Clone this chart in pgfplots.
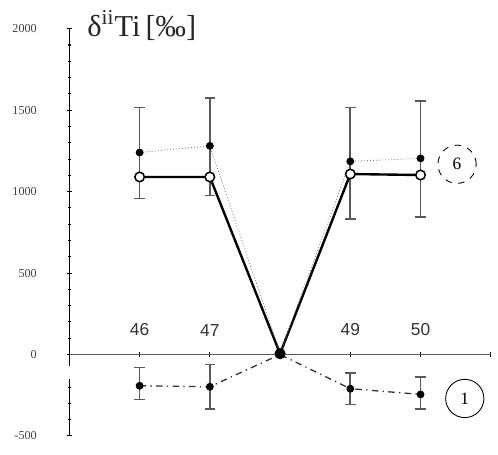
\documentclass[border=0pt]{standalone}
\usepackage{fontspec}
\setmainfont{Liberation Serif}
\newfontfamily\xsans{Liberation Sans}
\usepackage{pgfplots}
\pgfplotsset{compat=1.18}
\usetikzlibrary{calc}

% one image pixel of the reference
\def\px{0.01606cm}

\begin{document}
\begin{tikzpicture}
\begin{axis}[
    name=ax,
    scale only axis,
    width=6.83cm,
    height=6.60cm,
    xmin=45, xmax=51,
    ymin=-500, ymax=2000,
    axis x line=middle,
    axis y line=left,
    axis line style={-, black, line width=0.5pt},
    x axis line style={gray!70!black},
    xtick={46,47,48,49,50,51},
    xticklabels={46,47,,49,50,},
    xticklabel style={font=\xsans\fontsize{8}{9}\selectfont, anchor=south, yshift=0.22cm, text=black!80},
    ytick={-500,0,500,1000,1500,2000},
    minor y tick num=4,
    yticklabel style={font=\fontsize{5.6}{6}\selectfont, xshift=-0.36cm, text=black!75},
    /pgf/number format/assume math mode=true,
    /pgf/number format/set thousands separator={},
    tick align=center,
    major tick length=0.09cm,
    minor tick length=0.06cm,
    tick style={black, line width=0.5pt},
    clip=false,
]

% series 6, open markers
\addplot[black, line width=1.1pt,
    mark=*, mark size=2.2pt, mark options={fill=white, line width=0.7pt}]
coordinates {
    (46,1090) (47,1090) (48,5) (49,1108) (50,1102)
};

% series 6, filled markers
\addplot[gray, line width=0.4pt, densely dotted,
    mark=*, mark size=1.6pt, mark options={solid, black},
    error bars/.cd, y dir=both, y explicit,
    error bar style={gray!70!black, line width=0.8pt, solid},
    error mark options={rotate=90, mark size=2.4pt, line width=0.6pt, gray!70!black}]
coordinates {
    (46,1240) += (0,275) -= (0,282)
    (47,1281) += (0,294) -= (0,305)
    (48,10) += (0,0) -= (0,0)
    (49,1186) += (0,329) -= (0,354)
    (50,1204) += (0,353) -= (0,360)
};

% series 1
\addplot[black!80, line width=0.6pt, dash dot,
    mark=*, mark size=1.5pt, mark options={solid, black},
    error bars/.cd, y dir=both, y explicit,
    error bar style={gray!70!black, line width=0.8pt, solid},
    error mark options={rotate=90, mark size=2.4pt, line width=0.6pt, gray!70!black}]
coordinates {
    (46,-192) += (0,114) -= (0,83)
    (47,-198) += (0,138) -= (0,137)
    (48,0) += (0,0) -= (0,0)
    (49,-210) += (0,96) -= (0,95)
    (50,-245) += (0,107) -= (0,90)
};

% gap in the y axis line just below zero
\fill[white] (axis cs:44.9,-72) rectangle (axis cs:45.1,-150);

% axis title
\node[anchor=west, inner sep=0pt, font=\fontsize{14}{16}\selectfont, text=black!85]
    at (axis cs:45.25,2020) {δ$^{\mathrm{ii}}$Ti\,[‰]};

% circled series labels
\node[draw, dashed, circle, minimum size=0.62cm, inner sep=0pt,
    font=\fontsize{8}{9}\selectfont] at (axis cs:50.52,1168) {6};
\node[draw, circle, minimum size=0.62cm, inner sep=0pt,
    font=\fontsize{8}{9}\selectfont] at (axis cs:50.63,-270) {1};
\end{axis}
% page margins as in the reference
\path ($(ax.south west)+(-70*\px,-19*\px)$) rectangle ($(ax.north east)+(3*\px,29*\px)$);
\end{tikzpicture}
\end{document}
